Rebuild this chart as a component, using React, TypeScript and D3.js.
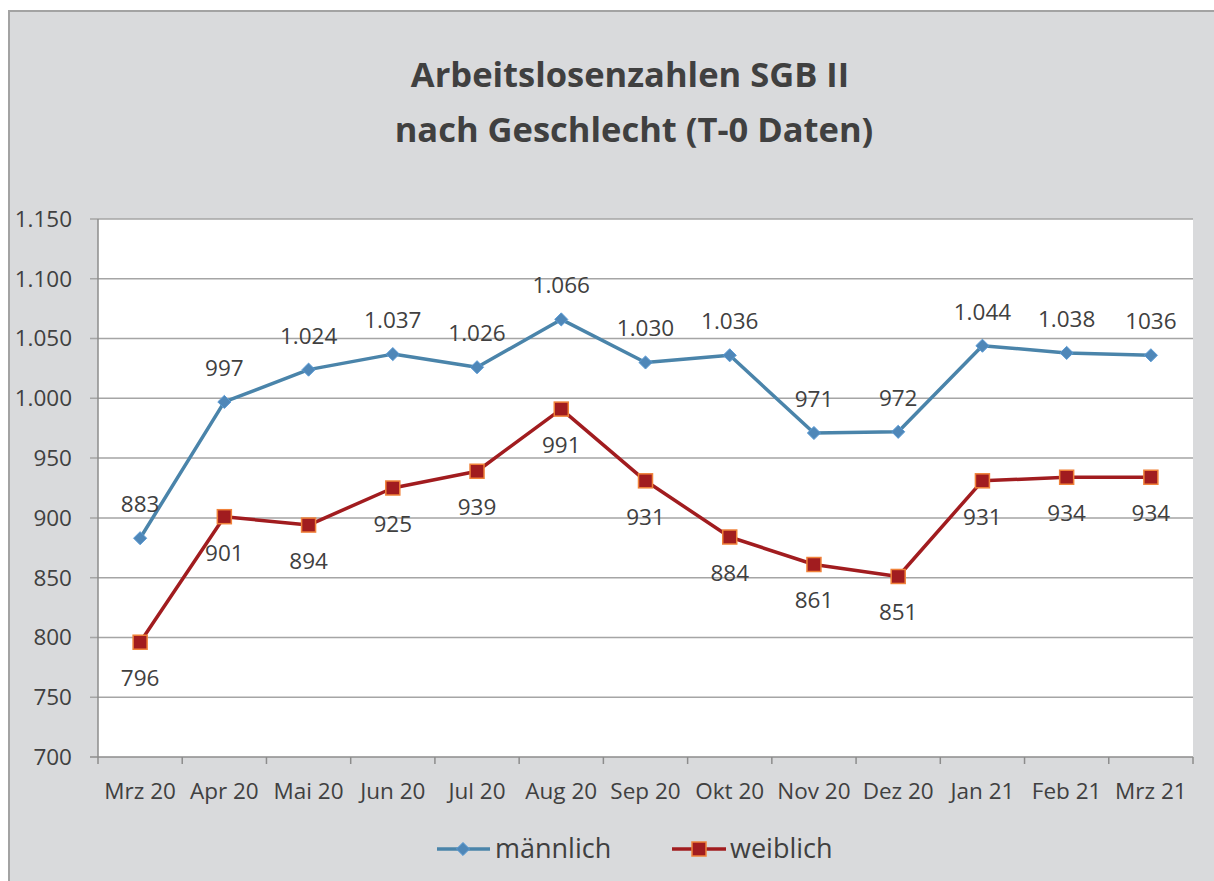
import React, { useEffect, useRef } from 'react';
import * as d3 from 'd3';

const months = ['Mrz 20', 'Apr 20', 'Mai 20', 'Jun 20', 'Jul 20', 'Aug 20', 'Sep 20', 'Okt 20', 'Nov 20', 'Dez 20', 'Jan 21', 'Feb 21', 'Mrz 21'];
const maleValues = [883, 997, 1024, 1037, 1026, 1066, 1030, 1036, 971, 972, 1044, 1038, 1036];
const maleLabels = ['883', '997', '1.024', '1.037', '1.026', '1.066', '1.030', '1.036', '971', '972', '1.044', '1.038', '1036'];
const femaleValues = [796, 901, 894, 925, 939, 991, 931, 884, 861, 851, 931, 934, 934];
const yTicks = [700, 750, 800, 850, 900, 950, 1000, 1050, 1100, 1150];

const W = 1214;
const H = 881;
const FONT = "'Open Sans', 'Liberation Sans', sans-serif";
const TEXT = '#404040';
const MALE = '#4a84aa';
const MALE_MARK = '#4f87b8';
const FEMALE = '#a11c1f';
const FEMALE_STROKE = '#f0823a';
const LABEL_SIZE = 22.5;

const fmt = (v: number) => d3.format(',')(v).replace(/,/g, '.');

export default function App() {
  const svgRef = useRef<SVGSVGElement>(null);

  useEffect(() => {
    if (!svgRef.current) return;
    const svg = d3.select(svgRef.current);
    svg.selectAll('*').remove();

    const left = 98, right = 1193, top = 219, bottom = 757;

    // chart frame
    svg.append('rect')
      .attr('x', 9).attr('y', 11)
      .attr('width', W + 20).attr('height', H + 20)
      .attr('fill', '#d9dadc')
      .attr('stroke', '#a3a3a3')
      .attr('stroke-width', 2);

    // title
    const title = svg.append('text')
      .attr('text-anchor', 'middle')
      .attr('fill', TEXT)
      .attr('font-family', FONT)
      .attr('font-weight', 'bold')
      .attr('font-size', 34.5);
    title.append('tspan').attr('x', 630).attr('y', 87).text('Arbeitslosenzahlen SGB II');
    title.append('tspan').attr('x', 634).attr('y', 142).text('nach Geschlecht (T-0 Daten)');

    const x = d3.scaleBand<string>().domain(months).range([left, right]);
    const y = d3.scaleLinear().domain([700, 1150]).range([bottom, top]);
    const cx = (i: number) => (x(months[i]) as number) + x.bandwidth() / 2;

    // plot area
    svg.append('rect')
      .attr('x', left).attr('y', top)
      .attr('width', right - left).attr('height', bottom - top)
      .attr('fill', '#ffffff');

    // gridlines
    svg.append('g')
      .selectAll('line')
      .data(yTicks.filter(t => t !== 700))
      .enter()
      .append('line')
      .attr('x1', left - 8).attr('x2', right)
      .attr('y1', d => y(d)).attr('y2', d => y(d))
      .attr('stroke', '#a5a5a5')
      .attr('stroke-width', 1.5);

    // y axis
    svg.append('line')
      .attr('x1', left).attr('x2', left)
      .attr('y1', top).attr('y2', bottom)
      .attr('stroke', '#8c8c8c').attr('stroke-width', 1.5);
    svg.append('line')
      .attr('x1', left - 8).attr('x2', left)
      .attr('y1', bottom).attr('y2', bottom)
      .attr('stroke', '#8c8c8c').attr('stroke-width', 1.5);

    svg.append('g')
      .selectAll('text')
      .data(yTicks)
      .enter()
      .append('text')
      .attr('x', 72)
      .attr('y', d => y(d))
      .attr('dy', '0.35em')
      .attr('text-anchor', 'end')
      .attr('fill', TEXT)
      .attr('font-family', FONT)
      .attr('font-size', LABEL_SIZE)
      .text(d => fmt(d));

    // x axis
    svg.append('line')
      .attr('x1', left).attr('x2', right)
      .attr('y1', bottom).attr('y2', bottom)
      .attr('stroke', '#8c8c8c').attr('stroke-width', 1.5);
    const tickXs = months.map(m => x(m) as number).concat([right]);
    svg.append('g')
      .selectAll('line')
      .data(tickXs)
      .enter()
      .append('line')
      .attr('x1', d => d).attr('x2', d => d)
      .attr('y1', bottom).attr('y2', bottom + 7)
      .attr('stroke', '#8c8c8c').attr('stroke-width', 1.5);

    svg.append('g')
      .selectAll('text')
      .data(months)
      .enter()
      .append('text')
      .attr('x', (d, i) => cx(i))
      .attr('y', 799)
      .attr('text-anchor', 'middle')
      .attr('fill', TEXT)
      .attr('font-family', FONT)
      .attr('font-size', LABEL_SIZE)
      .text(d => d);

    const line = d3.line<number>()
      .x((d, i) => cx(i))
      .y(d => y(d));

    // male series
    svg.append('path')
      .datum(maleValues)
      .attr('fill', 'none')
      .attr('stroke', MALE)
      .attr('stroke-width', 3.5)
      .attr('stroke-linejoin', 'round')
      .attr('d', line);

    const diamond = d3.symbol().type(d3.symbolDiamond2).size(110);
    svg.append('g')
      .selectAll('path')
      .data(maleValues)
      .enter()
      .append('path')
      .attr('transform', (d, i) => `translate(${cx(i)},${y(d)})`)
      .attr('d', diamond())
      .attr('fill', MALE_MARK)
      .attr('stroke', '#5b9bd5')
      .attr('stroke-width', 1);

    // female series
    svg.append('path')
      .datum(femaleValues)
      .attr('fill', 'none')
      .attr('stroke', FEMALE)
      .attr('stroke-width', 3.5)
      .attr('stroke-linejoin', 'round')
      .attr('d', line);

    svg.append('g')
      .selectAll('rect')
      .data(femaleValues)
      .enter()
      .append('rect')
      .attr('x', (d, i) => cx(i) - 7)
      .attr('y', d => y(d) - 7)
      .attr('width', 14).attr('height', 14)
      .attr('fill', FEMALE)
      .attr('stroke', FEMALE_STROKE)
      .attr('stroke-width', 1.5);

    // data labels
    svg.append('g')
      .selectAll('text')
      .data(maleValues)
      .enter()
      .append('text')
      .attr('x', (d, i) => cx(i))
      .attr('y', d => y(d) - 34)
      .attr('dy', '0.35em')
      .attr('text-anchor', 'middle')
      .attr('fill', TEXT)
      .attr('font-family', FONT)
      .attr('font-size', LABEL_SIZE)
      .text((d, i) => maleLabels[i]);

    svg.append('g')
      .selectAll('text')
      .data(femaleValues)
      .enter()
      .append('text')
      .attr('x', (d, i) => cx(i))
      .attr('y', d => y(d) + 36)
      .attr('dy', '0.35em')
      .attr('text-anchor', 'middle')
      .attr('fill', TEXT)
      .attr('font-family', FONT)
      .attr('font-size', LABEL_SIZE)
      .text(d => fmt(d));

    // legend
    const ly = 849;
    const lg = svg.append('g');
    lg.append('line')
      .attr('x1', 437).attr('x2', 490).attr('y1', ly).attr('y2', ly)
      .attr('stroke', MALE).attr('stroke-width', 3.5);
    lg.append('path')
      .attr('transform', `translate(463,${ly})`)
      .attr('d', diamond())
      .attr('fill', MALE_MARK)
      .attr('stroke', '#5b9bd5');
    lg.append('text')
      .attr('x', 495).attr('y', ly).attr('dy', '0.35em')
      .attr('fill', TEXT).attr('font-family', FONT).attr('font-size', 27)
      .text('männlich');
    lg.append('line')
      .attr('x1', 672).attr('x2', 726).attr('y1', ly).attr('y2', ly)
      .attr('stroke', FEMALE).attr('stroke-width', 3.5);
    lg.append('rect')
      .attr('x', 692).attr('y', ly - 7).attr('width', 14).attr('height', 14)
      .attr('fill', FEMALE).attr('stroke', FEMALE_STROKE).attr('stroke-width', 1.5);
    lg.append('text')
      .attr('x', 730).attr('y', ly).attr('dy', '0.35em')
      .attr('fill', TEXT).attr('font-family', FONT).attr('font-size', 27)
      .text('weiblich');
  }, []);

  return (
    <div style={{ position: 'absolute', left: 0, top: 0, width: W, height: H, overflow: 'hidden', background: '#ffffff' }}>
      <svg ref={svgRef} width={W} height={H} style={{ display: 'block' }} />
    </div>
  );
}
